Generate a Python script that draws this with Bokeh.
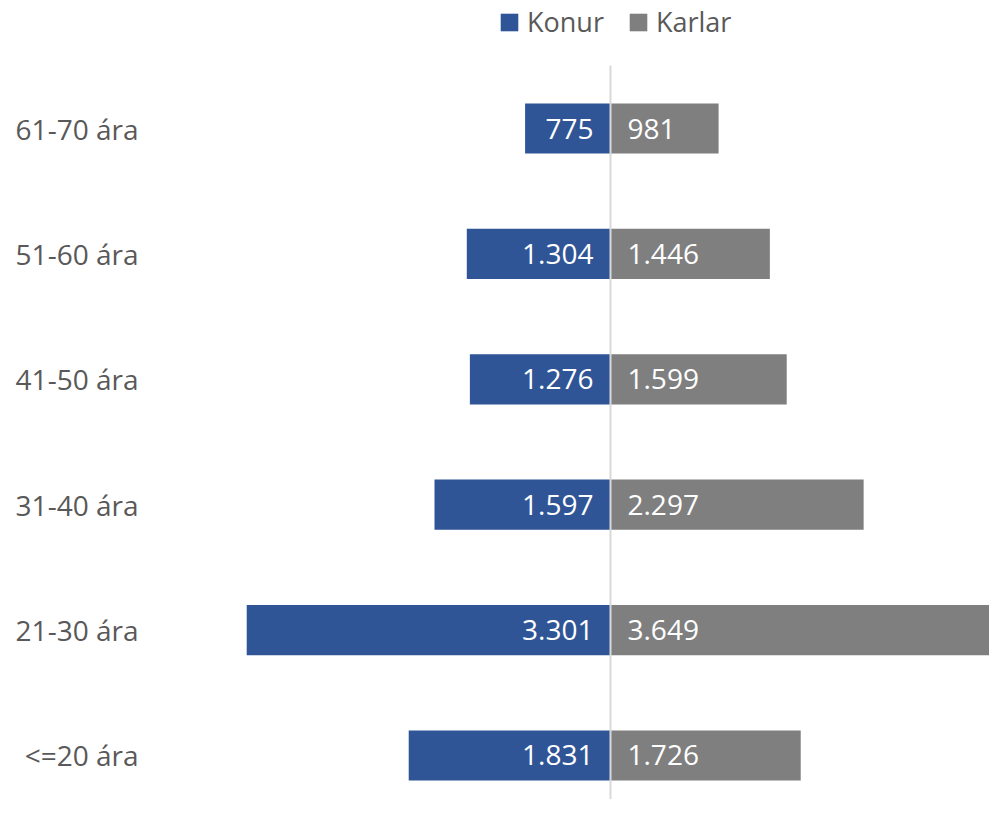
from bokeh.plotting import figure
from bokeh.models import ColumnDataSource, Legend, LegendItem, FixedTicker
from bokeh.core.properties import value
from bokeh.embed import file_html
from bokeh.resources import INLINE

categories = ["<=20 ára", "21-30 ára", "31-40 ára", "41-50 ára", "51-60 ára", "61-70 ára"]
konur = [1831, 3301, 1597, 1276, 1304, 775]
karlar = [1726, 3649, 2297, 1599, 1446, 981]
konur_labels = ["1.831", "3.301", "1.597", "1.276", "1.304", "775"]
karlar_labels = ["1.726", "3.649", "2.297", "1.599", "1.446", "981"]

BLUE = "#2F5597"
GREY = "#7F7F7F"
TXT = "#595959"
FONT = "Open Sans"

Y_BOTTOM = -0.351
Y_AXIS_TOP = 5.502
Y_TOP = 6.021

ypos = list(range(len(categories)))
src = ColumnDataSource(dict(
    y=ypos,
    konur_neg=[-v for v in konur],
    karlar=karlar,
    klab=konur_labels,
    mlab=karlar_labels,
    zero=[0] * len(categories),
))

p = figure(width=989, height=799, output_backend="svg", toolbar_location=None,
           x_range=(-4174, 3439), y_range=(Y_BOTTOM, Y_TOP),
           min_border_left=150, min_border_right=0, min_border_bottom=0, min_border_top=0)
p.outline_line_color = None
p.xgrid.visible = False
p.ygrid.visible = False
p.xaxis.visible = False

r1 = p.hbar(y="y", left="konur_neg", right="zero", height=0.4, fill_color=BLUE, line_color=None, source=src)
r2 = p.hbar(y="y", left="zero", right="karlar", height=0.4, fill_color=GREY, line_color=None, source=src)

# vertical category axis line at zero
p.segment(x0=[0], y0=[Y_BOTTOM], x1=[0], y1=[Y_AXIS_TOP], line_color="#D9D9D9", line_width=2)

p.text(x="zero", y="y", text="klab", source=src, text_align="right", text_baseline="middle",
       x_offset=-17, text_color="white", text_font=value(FONT), text_font_size="28px")
p.text(x="zero", y="y", text="mlab", source=src, text_align="left", text_baseline="middle",
       x_offset=17, text_color="white", text_font=value(FONT), text_font_size="28px")

ya = p.yaxis[0]
ya.ticker = FixedTicker(ticks=ypos)
ya.major_label_overrides = {i: c for i, c in enumerate(categories)}
ya.axis_line_color = None
ya.major_tick_line_color = None
ya.minor_tick_line_color = None
ya.major_tick_out = 0
ya.major_tick_in = 0
ya.major_label_standoff = 12
ya.major_label_text_font = FONT
ya.major_label_text_font_size = "28px"
ya.major_label_text_color = TXT

legend = Legend(items=[LegendItem(label="Konur", renderers=[r1]),
                       LegendItem(label="Karlar", renderers=[r2])],
                orientation="horizontal", location=(348, 759),
                margin=0, padding=0, spacing=23, label_standoff=7,
                glyph_width=22, glyph_height=22,
                border_line_alpha=0, background_fill_alpha=0,
                label_text_font=FONT, label_text_font_size="27px", label_text_color=TXT)
p.add_layout(legend, "center")

open("out.html", "w").write(file_html(p, INLINE))
